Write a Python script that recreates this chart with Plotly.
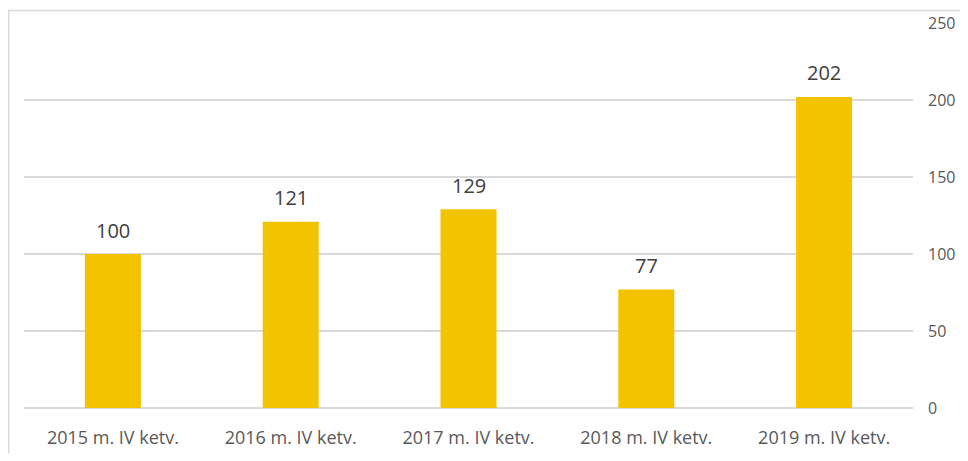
import plotly.graph_objects as go

categories = ["2015 m. IV ketv.", "2016 m. IV ketv.", "2017 m. IV ketv.", "2018 m. IV ketv.", "2019 m. IV ketv."]
values = [100, 121, 129, 77, 202]
tick_vals = [0, 50, 100, 150, 200, 250]

fig = go.Figure(go.Bar(
    x=categories, y=values,
    marker=dict(color="#F4C300", line=dict(width=0)),
    cliponaxis=False,
))

for c, v in zip(categories, values):
    fig.add_annotation(x=c, y=v, text=str(v), showarrow=False, yanchor="middle",
                       yshift=24, font=dict(size=20, color="#404040", family="Open Sans"))

# page has an 8px body margin; compensate and avoid scrollbars
OFF = 8
W, H = 968 - 2 * OFF, 461 - 2 * OFF
plot_right, plot_bottom = 913 - OFF, 408 - OFF
L, T = 24 - OFF, 23 - OFF
R, B = W - plot_right, H - plot_bottom
pw, ph = W - L - R, H - T - B

fig.update_layout(
    width=W, height=H,
    margin=dict(l=L, r=R, t=T, b=B, pad=0, autoexpand=False),
    paper_bgcolor="white", plot_bgcolor="white",
    bargap=0.685,
    showlegend=False,
    font=dict(family="Open Sans", color="#595959", size=18),
    xaxis=dict(showgrid=False, showline=False, ticks="", ticklabelstandoff=17,
               tickfont=dict(size=18, color="#595959")),
    yaxis=dict(side="right", range=[0, 250], tickvals=tick_vals, showgrid=True,
               gridcolor="#d9d9d9", gridwidth=1.5, zeroline=True, zerolinecolor="#d9d9d9",
               zerolinewidth=1.5, showline=False, ticks="", ticklabelstandoff=14,
               tickfont=dict(size=16, color="#595959")),
    shapes=[dict(type="rect", xref="paper", yref="paper",
                 x0=(0.75 - L) / pw, x1=1.2, y0=-0.5, y1=1 + (T - 2.5) / ph,
                 line=dict(color="#d9d9d9", width=1.5), fillcolor="rgba(0,0,0,0)", layer="below")],
)

fig.write_html("out.html")
